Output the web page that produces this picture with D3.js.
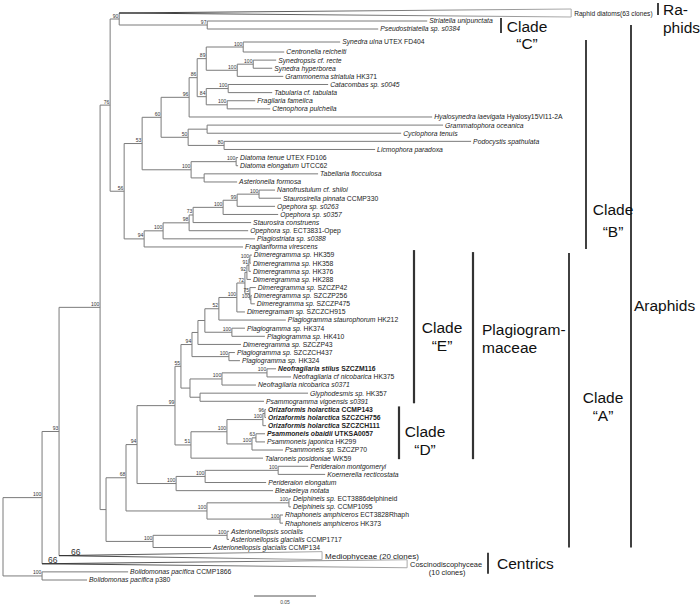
<!DOCTYPE html>
<html><head><meta charset="utf-8">
<script src="https://cdn.jsdelivr.net/npm/d3@7/dist/d3.min.js"></script>
<style>html,body{margin:0;padding:0;background:#fff}svg{display:block}</style>
</head><body>
<script>
// ---------------- DATA ----------------
// Tree (Newick, top-to-bottom order). Branch lengths in substitutions/site, internal labels = bootstrap.
// Leaf names: text after "|" is upright (strain code); leading "*" = bold.
const newickLines = [
"(((((",
"('Raphid diatoms(63 clones)':0.3645,('Striatella unipunctata':0.1774,'Pseudostriatella sp. s0384':0.1379)97:0.0710)90:0.0073,",
"((((((",
"('Synedra ulna|UTEX FD404':0.0782,'Centronella reichelti':0.0331)100:0.0298,",
"(('Synedropsis cf. recte':0.0185,'Synedra hyperborea':0.0153)100:0.0129,'Grammonema striatula|HK371':0.0371)100:0.0250",
")89:0.0073,(",
"('Catacombas sp. s0045':0.0806,'Tabularia cf. tabulata':0.0355)100:0.0177,",
"('Fragilaria famelica':0.0226,'Ctenophora pulchella':0.0347)100:0.0169",
")84:0.0073)86:0.0065,'Hyalosynedra laevigata|Hyalosy15VI11-2A':0.1960)96:0.0226,",
"(('Grammatophora oceanica':0.1903,'Cyclophora tenuis':0.1565):0.0153,('Podocystis spathulata':0.1992,'Licmophora paradoxa':0.1218)80:0.0290)50:0.0218",
")60:0.0153,",
"(('Diatoma tenue|UTEX FD106':0.0016,'Diatoma elongatum|UTCC62':0.0016)100:0.0363,('Tabellaria flocculosa':0.0919,'Asterionella formosa':0.0266):0.0105)100:0.0395",
")53:0.0145,",
"(((((",
"(('Nanofrustulum cf. shiloi':0.0129,'Staurosirella pinnata|CCMP330':0.0177)100:0.0177,'Opephora sp. s0263':0.0306)99:0.0113,",
"'Opephora sp. s0357':0.0444)100:0.0242,'Staurosira construens':0.0468)73:0.0032,'Opephora sp.|ECT3831-Opep':0.0476)98:0.0210,",
"'Plagiostriata sp. s0388':0.0742)100:0.0153,'Fragilariforma virescens':0.0798)94:0.0161",
")56:0.0113",
")76:0.0081,",
"(((((((((((",
"((('Dimeregramma sp.|HK359':0.0016,'Dimeregramma sp.|HK358':0.0008)100:0.0008,'Dimeregramma sp.|HK376':0.0016)91:0.0016,'Dimeregramma sp.|HK288':0.0032)92:0.0016,",
"('Dimeregramma sp.|SZCZP42':0.0048,('Dimeregramma sp.|SZCZP256':0.0008,'Dimeregramma sp.|SZCZP475':0.0032)100:0.0008)75:0.0040",
")72:0.0065,'Dimeregramam sp.|SZCZCH915':0.0065)100:0.0145,'Plagiogramma staurophorum|HK212':0.0540)52:0.0113,",
"('Plagiogramma sp.|HK374':0.0105,'Plagiogramma sp.|HK410':0.0266)100:0.0218):0.0056,",
"'Dimeregramma sp.|SZCZP43':0.0347):0.0048,",
"('Plagiogramma sp. |SZCZCH437':0.0048,'Plagiogramma sp.|HK324':0.0089)100:0.0298",
")94:0.0089,",
"((('*Neofragilaria stilus|SZCZM116':0.0073,'Neofragilaria cf nicobarica|HK375':0.0194)100:0.0363,'Neofragilaria nicobarica s0371':0.0274)100:0.0258,",
"('Glyphodesmis sp.|HK357':0.0871,'Psammogramma vigoensis s0391':0.0516):0.0081):0.0073",
")55:0.0048,",
"(((('*Orizaformis holarctica |CCMP143':0.0008,'*Orizaformis holarctica|SZCZCH756':0.0008)96:0.0016,'*Orizaformis holarctica|SZCZCH111':0.0024)100:0.0290,",
"(('*Psammoneis obaidii|UTKSA0057':0.0073,'Psammoneis japonica|HK299':0.0073)63:0.0032,'Psammoneis sp.|SZCZP70':0.0250)100:0.0202)100:0.0290,",
"'Talaroneis posidoniae|WK59':0.0581)51:0.0129",
")99:0.0306,",
"((('Perideraion montgomeryi':0.0242,'Koernerella recticostata':0.0379)100:0.0589,'Perideraion elongatum':0.0492)100:0.0234,'Bleakeleya notata':0.0782)100:0.0315",
")94:0.0089,",
"(('Delphineis sp.|ECT3886delphineid':0.0016,'Delphineis sp.|CCMP1095':0.0016)100:0.0661,('Rhaphoneis amphiceros |ECT3828Rhaph':0.0024,'Rhaphoneis amphiceros|HK373':0.0024)100:0.0589)100:0.0653",
")68:0.0161,",
"(('Asterionellopsis socialis':0.0016,'Asterionellopsis glacialis|CCMP1717':0.0016)100:0.0597,'Asterionellopsis glacialis|CCMP134':0.0468)100:0.0379",
"):0.0048",
")100:0.0331,'Mediophyceae (20 clones)':0.2121)93:0.0137,'Coscinodiscophyceae':0.2944)100:0.0315,",
"('Bolidomonas pacifica|CCMP1866':0.0694,'Bolidomonas pacifica|p380':0.0363)100:0.0315);"
];

// Collapsed clades (drawn as triangles) and their support values
const collapsedNames = ["Raphid diatoms(63 clones)", "Mediophyceae (20 clones)", "Coscinodiscophyceae"];
const collapsedSupport = ["", "66", "66"];
const collapsedSubLabel = ["", "", "(10 clones)"];

// Clade brackets: name lines, first and last leaf index covered
const cladeNames = [["Ra-","phids"], ["Clade","\u201CC\u201D"], ["Clade","\u201CB\u201D"], ["Araphids"], ["Clade","\u201CA\u201D"], ["Plagiogram-","maceae"], ["Clade","\u201CE\u201D"], ["Clade","\u201CD\u201D"], ["Centrics"]];
const cladeFirst = [0, 1, 3, 1, 29, 29, 29, 48, 66];
const cladeLast  = [0, 2, 28, 65, 65, 54, 47, 54, 67];

const scaleBarValue = 0.05;

// ---------------- PARSER ----------------
function parseNewick(s) {
  let i = 0;
  function node() {
    const n = {name: "", support: "", length: 0, children: null};
    if (s[i] === "(") {
      i++; n.children = [node()];
      while (s[i] === ",") { i++; n.children.push(node()); }
      i++;
      let lab = ""; while (i < s.length && !":,);".includes(s[i])) lab += s[i++];
      n.support = lab.trim();
    } else if (s[i] === "'") {
      i++; let t = ""; while (s[i] !== "'") t += s[i++]; i++; n.name = t;
    } else {
      let t = ""; while (!":,);".includes(s[i])) t += s[i++]; n.name = t.trim();
    }
    if (s[i] === ":") { i++; let l = ""; while (!",);".includes(s[i])) l += s[i++]; n.length = +l; }
    return n;
  }
  return node();
}

// ---------------- LAYOUT ----------------
const W = 700, H = 607;
const FONT = "'Liberation Sans', Arial, Helvetica, sans-serif";
const svg = d3.select("body").append("svg").attr("width", W).attr("height", H)
  .style("font-family", FONT);

const root = d3.hierarchy(parseNewick(newickLines.map(l => l.trim()).join("")), d => d.children);
root.eachBefore(d => { d.dist = d.parent ? d.parent.dist + d.data.length : 0; });
const leaves = root.leaves();

const x = d3.scaleLinear().domain([0, 0.05]).range([3, 65]);
const y = d3.scaleLinear().domain([0, 2, 3, 4, leaves.length - 1]).range([13, 29, 42, 52, 580]);

leaves.forEach((d, i) => { d.idx = i; d.py = y(i); });
root.eachAfter(d => {
  d.px = x(d.dist);
  if (d.children) d.py = (d.children[0].py + d.children[d.children.length - 1].py) / 2;
});

const gTree = svg.append("g");
const lineCol = "#7b7b7b";

// horizontal branches
root.descendants().filter(d => d.parent && collapsedNames.indexOf(d.data.name) < 0).forEach(d => {
  gTree.append("line").attr("x1", d.parent.px).attr("x2", d.px).attr("y1", d.py).attr("y2", d.py)
    .attr("stroke", lineCol).attr("stroke-width", 1);
});
// vertical connectors
root.descendants().filter(d => d.children).forEach(d => {
  gTree.append("line").attr("x1", d.px).attr("x2", d.px)
    .attr("y1", d.children[0].py).attr("y2", d.children[d.children.length - 1].py)
    .attr("stroke", lineCol).attr("stroke-width", 1);
});

// gradient for collapsed triangles
const defs = svg.append("defs");
const grad = defs.append("linearGradient").attr("id", "tri").attr("x1", 0).attr("x2", 1).attr("y1", 0).attr("y2", 0);
grad.append("stop").attr("offset", "0%").attr("stop-color", "#333");
grad.append("stop").attr("offset", "100%").attr("stop-color", "#aaa");

// collapsed clades
leaves.filter(d => collapsedNames.indexOf(d.data.name) >= 0).forEach(d => {
  const k = collapsedNames.indexOf(d.data.name);
  const x0 = d.parent.px, x1 = d.px, yy = d.py;
  gTree.append("path").attr("d", `M${x0},${yy}L${x1},${yy - 4}L${x1},${yy + 4}Z`)
    .attr("fill", "#fff").attr("stroke", "url(#tri)").attr("stroke-width", 1);
  if (collapsedSupport[k]) {
    gTree.append("text").attr("x", x0 + (k === 1 ? 12 : 6)).attr("y", yy - (k === 1 ? 1 : 0.5))
      .attr("font-size", 8.5).attr("fill", "#333").text(collapsedSupport[k]);
  }
  const big = k > 0;
  gTree.append("text").attr("x", x1 + 3).attr("y", yy + (big ? 3 : 2.5))
    .attr("font-size", k === 2 ? 7.4 : (big ? 8 : 6.6)).attr("fill", "#222").text(d.data.name);
  if (collapsedSubLabel[k]) {
    gTree.append("text").attr("x", x1 + 3 + 37).attr("y", yy + 11).attr("text-anchor", "middle")
      .attr("font-size", 7.4).attr("fill", "#222").text(collapsedSubLabel[k]);
  }
});

// leaf labels
leaves.filter(d => collapsedNames.indexOf(d.data.name) < 0).forEach(d => {
  let nm = d.data.name, bold = false;
  if (nm[0] === "*") { bold = true; nm = nm.slice(1); }
  const parts = nm.split("|");
  const t = gTree.append("text").attr("x", d.px + 2).attr("y", d.py + 2.4)
    .attr("font-size", 6.8).attr("fill", "#222").attr("font-weight", bold ? "bold" : "normal");
  t.append("tspan").attr("font-style", "italic").text(parts[0]);
  if (parts[1]) t.append("tspan").attr("font-style", "normal").text(" " + parts[1]);
});

// bootstrap labels
root.descendants().filter(d => d.children && d.data.support).forEach(d => {
  gTree.append("text").attr("x", d.px - 0.8).attr("y", d.py - 1.5).attr("text-anchor", "end")
    .attr("font-size", 5).attr("fill", "#333").text(d.data.support);
});

// scale bar
const sbx0 = 254, sbLen = x(scaleBarValue) - x(0), sby = 596;
svg.append("line").attr("x1", sbx0).attr("x2", sbx0 + sbLen).attr("y1", sby).attr("y2", sby)
  .attr("stroke", "#555").attr("stroke-width", 1);
svg.append("text").attr("x", sbx0 + sbLen / 2).attr("y", sby + 7.5).attr("text-anchor", "middle")
  .attr("font-size", 5).attr("fill", "#444").text(scaleBarValue.toFixed(2));

// clade brackets (layout per bracket: line x, extra top/bottom, text anchor x, baselines, anchor)
const bracketLayout = [
  {lx: 658, top: -10, bot: 2, tx: 663, ty: [15, 33], anchor: "start", sw: 1.6},
  {lx: 501, top: -3, bot: 4, tx: 527, ty: [32, 49], anchor: "middle", sw: 1.6},
  {lx: 586, top: -2, bot: 2, tx: 613, ty: [215, 237], anchor: "middle", sw: 1.6},
  {lx: 631, top: 4, bot: 0, tx: 634, ty: [311], anchor: "start", sw: 1.6},
  {lx: 569, top: -2, bot: 0, tx: 603, ty: [403, 421], anchor: "middle", sw: 1.6},
  {lx: 473, top: -3, bot: 1, tx: 482, ty: [335, 353], anchor: "start", sw: 2.2},
  {lx: 414, top: -5, bot: 2, tx: 442, ty: [333, 351], anchor: "middle", sw: 2.2},
  {lx: 399, top: -3, bot: 1, tx: 425, ty: [437, 455], anchor: "middle", sw: 2.2},
  {lx: 488, top: -3, bot: 10, tx: 497, ty: [569], anchor: "start", sw: 1.6}
];
cladeNames.forEach((lines, k) => {
  const L = bracketLayout[k];
  const y0 = y(cladeFirst[k]) + L.top, y1 = y(cladeLast[k]) + L.bot;
  svg.append("line").attr("x1", L.lx).attr("x2", L.lx).attr("y1", y0).attr("y2", y1)
    .attr("stroke", k >= 5 && k <= 7 ? "#333" : "#111").attr("stroke-width", L.sw);
  lines.forEach((s, j) => {
    svg.append("text").attr("x", L.tx).attr("y", L.ty[j]).attr("text-anchor", L.anchor)
      .attr("font-size", 15.5).attr("fill", "#111").text(s);
  });
});
</script>
</body></html>
